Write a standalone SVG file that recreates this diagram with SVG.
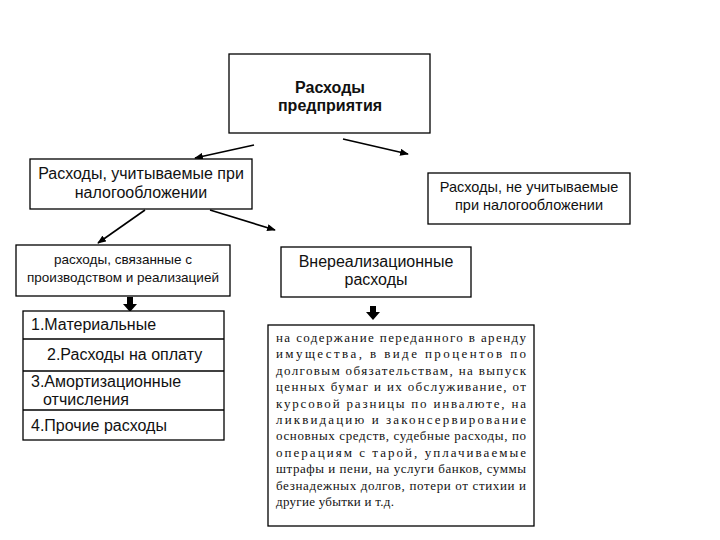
<svg xmlns="http://www.w3.org/2000/svg" width="720" height="540" viewBox="0 0 720 540">
<defs>
<style>
.box{fill:#fff;stroke:#000;stroke-width:1.3}
.t{font-family:"Liberation Sans",Arial,sans-serif;fill:#111}
.b{font-weight:bold}
.s{font-family:"Liberation Serif","Times New Roman",serif;font-size:13px;fill:#111}
.c{stroke:#000;stroke-width:1.6;fill:none}
.blk{fill:#000}
</style>
<marker id="ah" viewBox="0 0 10 8" refX="9" refY="4" markerWidth="9" markerHeight="7" markerUnits="userSpaceOnUse" orient="auto">
<path d="M0,0 L10,4 L0,8 z" fill="#000"/>
</marker>
</defs>
<rect width="720" height="540" fill="#fff"/>

<g id="connectors">
<line class="c" x1="254" y1="145" x2="195" y2="158" marker-end="url(#ah)"/>
<line class="c" x1="343" y1="139" x2="408" y2="154" marker-end="url(#ah)"/>
<line class="c" x1="145" y1="210" x2="98" y2="243" marker-end="url(#ah)"/>
<line class="c" x1="210" y1="210" x2="275" y2="230" marker-end="url(#ah)"/>
<path class="blk" d="M127,297 h6 v7 h4 l-7,8 l-7,-8 h4 z"/>
<path class="blk" d="M370,306 h6 v6 h4 l-7,8 l-7,-8 h4 z"/>
</g>

<g id="root">
<rect class="box" x="229" y="54" width="201" height="79"/>
<text class="t b" x="330" y="93" font-size="16" text-anchor="middle">Расходы</text>
<text class="t b" x="330" y="111" font-size="16" text-anchor="middle">предприятия</text>
</g>

<g id="tax">
<rect class="box" x="30" y="159" width="222" height="50"/>
<text class="t" x="141" y="179" font-size="16" text-anchor="middle">Расходы, учитываемые при</text>
<text class="t" x="141" y="198" font-size="16" text-anchor="middle">налогообложении</text>
</g>

<g id="notax">
<rect class="box" x="428" y="173" width="202" height="51"/>
<text class="t" x="529" y="192" font-size="14.5" text-anchor="middle">Расходы, не учитываемые</text>
<text class="t" x="529" y="210" font-size="14.5" text-anchor="middle">при налогообложении</text>
</g>

<g id="production">
<rect class="box" x="16" y="245" width="214" height="51"/>
<text class="t" x="123" y="264" font-size="13.5" text-anchor="middle">расходы, связанные с</text>
<text class="t" x="123" y="282" font-size="13.5" text-anchor="middle">производством и реализацией</text>
</g>

<g id="nonoperating">
<rect class="box" x="281" y="247" width="190" height="50"/>
<text class="t" x="376" y="267" font-size="16" text-anchor="middle">Внереализационные</text>
<text class="t" x="376" y="285" font-size="16" text-anchor="middle">расходы</text>
</g>

<g id="list">
<rect class="box" x="23" y="311" width="201" height="129"/>
<line class="box" x1="23" y1="339" x2="224" y2="339"/>
<line class="box" x1="23" y1="371" x2="224" y2="371"/>
<line class="box" x1="23" y1="410" x2="224" y2="410"/>
<text class="t" x="31" y="330" font-size="16">1.Материальные</text>
<text class="t" x="47" y="360" font-size="16">2.Расходы на оплату</text>
<text class="t" x="31" y="387" font-size="16">3.Амортизационные</text>
<text class="t" x="43" y="405" font-size="16">отчисления</text>
<text class="t" x="31" y="431" font-size="16">4.Прочие расходы</text>
</g>

<g id="details">
<rect class="box" x="268" y="325" width="266" height="201"/>
<text class="s" x="276" y="342" textLength="250" lengthAdjust="spacing">на содержание переданного в аренду</text>
<text class="s" x="276" y="358.4" textLength="250" lengthAdjust="spacing">имущества, в виде процентов по</text>
<text class="s" x="276" y="374.8" textLength="250" lengthAdjust="spacing">долговым обязательствам, на выпуск</text>
<text class="s" x="276" y="391.2" textLength="250" lengthAdjust="spacing">ценных бумаг и их обслуживание, от</text>
<text class="s" x="276" y="407.6" textLength="250" lengthAdjust="spacing">курсовой разницы по инвалюте, на</text>
<text class="s" x="276" y="424" textLength="250" lengthAdjust="spacing">ликвидацию и законсервирование</text>
<text class="s" x="276" y="440.4" textLength="250" lengthAdjust="spacing">основных средств, судебные расходы, по</text>
<text class="s" x="276" y="456.8" textLength="250" lengthAdjust="spacing">операциям с тарой, уплачиваемые</text>
<text class="s" x="276" y="473.2" textLength="250" lengthAdjust="spacing">штрафы и пени, на услуги банков, суммы</text>
<text class="s" x="276" y="489.6" textLength="250" lengthAdjust="spacing">безнадежных долгов, потери от стихии и</text>
<text class="s" x="276" y="506" textLength="118" lengthAdjust="spacing">другие убытки и т.д.</text>
</g>
</svg>
